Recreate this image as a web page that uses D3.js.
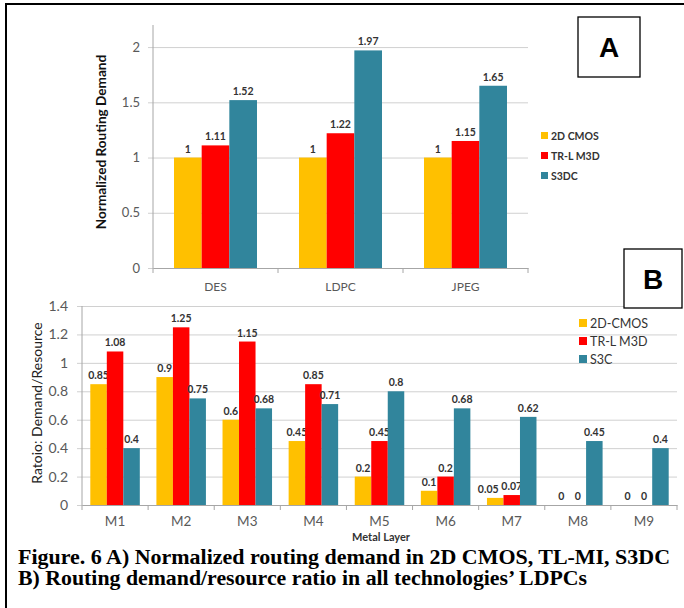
<!DOCTYPE html>
<html>
<head>
<meta charset="utf-8">
<script src="https://cdn.jsdelivr.net/npm/d3@7"></script>
<style>
  body { margin: 0; background: #fff; }
  svg { display: block; }
  .tick text { fill: #595959; }
</style>
</head>
<body>
<script>
// chart A data
const benchmarks = ['DES', 'LDPC', 'JPEG'];
const seriesA = ['2D CMOS', 'TR-L M3D', 'S3DC'];
const cmosA = [1, 1, 1];
const trlA = [1.11, 1.22, 1.15];
const s3dcA = [1.52, 1.97, 1.65];
const ticksA = [0, 0.5, 1, 1.5, 2];

// chart B data
const layers = ['M1', 'M2', 'M3', 'M4', 'M5', 'M6', 'M7', 'M8', 'M9'];
const seriesB = ['2D-CMOS', 'TR-L M3D', 'S3C'];
const cmosB = [0.85, 0.9, 0.6, 0.45, 0.2, 0.1, 0.05, 0, 0];
const trlB = [1.08, 1.25, 1.15, 0.85, 0.45, 0.2, 0.07, 0, 0];
const s3cB = [0.4, 0.75, 0.68, 0.71, 0.8, 0.68, 0.62, 0.45, 0.4];
const ticksB = [0, 0.2, 0.4, 0.6, 0.8, 1, 1.2, 1.4];

const colors = ['#FFC000', '#FF0000', '#31859C'];
const font = 'Lato, "Open Sans", sans-serif';

const svg = d3.select('body').append('svg')
  .attr('width', 684)
  .attr('height', 608)
  .style('font-family', font);

// outer frame
svg.append('rect')
  .attr('x', 6).attr('y', 4)
  .attr('width', 700).attr('height', 620)
  .attr('fill', '#fff')
  .attr('stroke', '#000')
  .attr('stroke-width', 2);

function drawChart(opts) {
  const { cats, series, values, ticks, yDomain, left, right, top, bottom, pad } = opts;

  const x0 = d3.scaleBand().domain(cats).range([left, right]);
  const x1 = d3.scaleBand().domain(series).range([pad, x0.bandwidth() - pad]);
  const y = d3.scaleLinear().domain(yDomain).range([bottom, top]);

  const g = svg.append('g');

  // gridlines + y labels
  g.append('g')
    .attr('transform', `translate(${left - 5},0)`)
    .call(d3.axisLeft(y)
      .tickValues(ticks)
      .tickSize(-(right - left + 5))
      .tickPadding(opts.tickPad)
      .tickFormat(d3.format('~g')))
    .call(a => a.select('.domain').remove())
    .call(a => a.selectAll('line').attr('stroke', '#d0d0d0'))
    .call(a => a.selectAll('text')
      .style('font-size', opts.yTickSize + 'px')
      .style('font-family', font));

  // y axis line
  g.append('line')
    .attr('x1', left).attr('x2', left)
    .attr('y1', y(yDomain[1])).attr('y2', y(0))
    .attr('stroke', '#a6a6a6');

  // bars
  series.forEach((s, i) => {
    const rows = cats.map((c, j) => ({ c, j, v: values[i][j] }));

    g.selectAll(null)
      .data(rows)
      .enter().append('rect')
      .attr('x', d => x0(d.c) + x1(s))
      .attr('y', d => y(d.v))
      .attr('width', x1.bandwidth())
      .attr('height', d => y(0) - y(d.v))
      .attr('fill', colors[i]);

    // nudge first label left when it would hit its neighbour's label
    const nudge = d => {
      if (i !== 0 || d.v === 0) return 0;
      const next = values[1][d.j];
      return Math.abs(y(d.v) - y(next)) < 10 ? -7 : 0;
    };

    g.selectAll(null)
      .data(rows)
      .enter().append('text')
      .attr('x', d => x0(d.c) + x1(s) + x1.bandwidth() / 2 + nudge(d))
      .attr('y', d => y(d.v) - 5)
      .attr('text-anchor', 'middle')
      .attr('font-weight', 'bold')
      .attr('font-size', opts.valSize)
      .attr('fill', '#333')
      .text(d => d.v);
  });

  // x axis
  g.append('g')
    .attr('transform', `translate(0,${y(0)})`)
    .call(d3.axisBottom(x0).tickSize(0).tickPadding(opts.xPad))
    .call(a => a.select('.domain').attr('stroke', '#a6a6a6'))
    .call(a => a.selectAll('text')
      .style('font-size', opts.xTickSize + 'px')
      .style('font-family', font));

  const bounds = cats.map(c => x0(c)).concat([right]);
  g.selectAll(null)
    .data(bounds)
    .enter().append('line')
    .attr('x1', d => d).attr('x2', d => d)
    .attr('y1', y(0)).attr('y2', y(0) + 5)
    .attr('stroke', '#a6a6a6');

  return { g, x0, y };
}

// ---- chart A ----
drawChart({
  cats: benchmarks, series: seriesA, values: [cmosA, trlA, s3dcA],
  ticks: ticksA, yDomain: [0, 2.2],
  left: 153, right: 528, top: 25, bottom: 268, pad: 21,
  tickPad: 8, yTickSize: 13, xTickSize: 12, xPad: 14, valSize: 10.5
});

svg.append('text')
  .attr('transform', 'translate(106,142) rotate(-90)')
  .attr('text-anchor', 'middle')
  .attr('font-weight', 'bold')
  .attr('font-size', 13.6)
  .attr('fill', '#111')
  .text('Normalized Routing Demand');

const legA = svg.append('g');
seriesA.forEach((s, i) => {
  legA.append('rect')
    .attr('x', 541).attr('y', 132 + i * 20)
    .attr('width', 7).attr('height', 7)
    .attr('fill', colors[i]);
  legA.append('text')
    .attr('x', 551).attr('y', 140 + i * 20)
    .attr('font-weight', 'bold')
    .attr('font-size', 10.5)
    .attr('fill', '#333')
    .text(s);
});

// ---- chart B ----
drawChart({
  cats: layers, series: seriesB, values: [cmosB, trlB, s3cB],
  ticks: ticksB, yDomain: [0, 1.4],
  left: 82, right: 677, top: 306, bottom: 505, pad: 8.3,
  tickPad: 9, yTickSize: 14, xTickSize: 13.5, xPad: 11, valSize: 10.5
});

svg.append('text')
  .attr('transform', 'translate(42,403) rotate(-90)')
  .attr('text-anchor', 'middle')
  .attr('font-size', 14)
  .attr('fill', '#222')
  .text('Ratoio: Demand/Resource');

svg.append('text')
  .attr('x', 381).attr('y', 541)
  .attr('text-anchor', 'middle')
  .attr('font-weight', 'bold')
  .attr('font-size', 11)
  .attr('fill', '#333')
  .text('Metal Layer');

const legB = svg.append('g');
seriesB.forEach((s, i) => {
  legB.append('rect')
    .attr('x', 579).attr('y', 319 + i * 18)
    .attr('width', 8).attr('height', 8)
    .attr('fill', colors[i]);
  legB.append('text')
    .attr('x', 590).attr('y', 328 + i * 18)
    .attr('font-size', 12.5)
    .attr('fill', '#333')
    .text(s);
});

// panel boxes
[{ t: 'A', x: 578, y: 17, w: 62, h: 60 }, { t: 'B', x: 624, y: 249, w: 58, h: 59 }].forEach(b => {
  svg.append('rect')
    .attr('x', b.x).attr('y', b.y)
    .attr('width', b.w).attr('height', b.h)
    .attr('fill', '#fff')
    .attr('stroke', '#000')
    .attr('stroke-width', 1.3);
  svg.append('text')
    .attr('x', b.x + b.w / 2).attr('y', b.y + b.h / 2 + 10)
    .attr('text-anchor', 'middle')
    .attr('font-family', '"Liberation Sans", Arial, sans-serif')
    .attr('font-weight', 'bold')
    .attr('font-size', 28)
    .text(b.t);
});

// caption
const caption = [
  { t: 'Figure. 6 A) Normalized routing demand in 2D CMOS, TL-MI, S3DC', w: 652 },
  { t: 'B) Routing demand/resource ratio in all technologies\u2019 LDPCs', w: 569 }
];
caption.forEach((c, i) => {
  svg.append('text')
    .attr('x', 18).attr('y', 564 + i * 21)
    .attr('font-family', '"Liberation Serif", "Times New Roman", serif')
    .attr('font-weight', 'bold')
    .attr('font-size', 20)
    .attr('textLength', c.w)
    .attr('lengthAdjust', 'spacingAndGlyphs')
    .attr('fill', '#000')
    .text(c.t);
});
</script>
</body>
</html>
